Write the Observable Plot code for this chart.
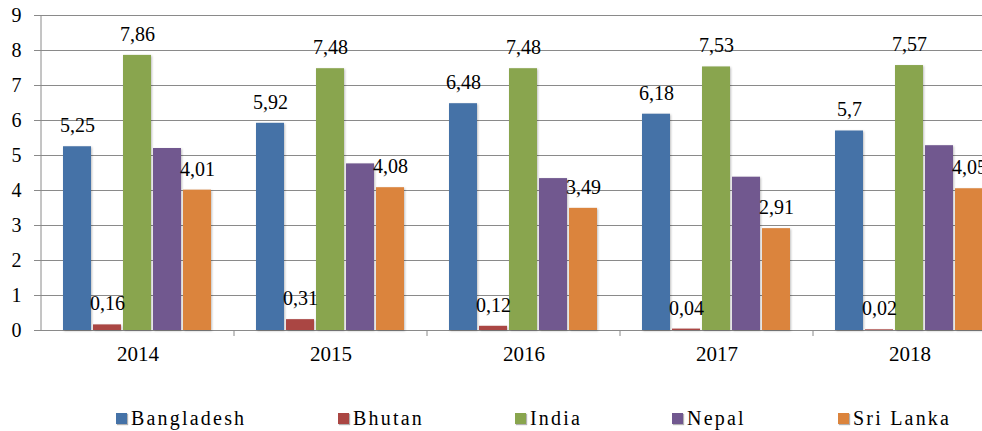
<!DOCTYPE html>
<html>
<head>
<meta charset="utf-8">
<script src="https://cdn.jsdelivr.net/npm/d3@7"></script>
<script src="https://cdn.jsdelivr.net/npm/@observablehq/plot@0.6"></script>
<style>
  html, body { margin: 0; padding: 0; background: #fff; width: 982px; height: 431px; overflow: hidden; }
  #chart svg { max-width: none !important; display: block; }
  #chart g[aria-label="bar"] rect { filter: drop-shadow(1px 1px 1px rgba(0,0,0,0.25)); }
  #legend { position: relative; width: 982px; height: 41px; font-family: 'Times New Roman'; font-size: 20px; color: #000; }
  #legend .item { position: absolute; top: 17px; display: flex; align-items: center; line-height: 22px; letter-spacing: 2.2px; }
  #legend .sw { width: 11px; height: 11px; margin-right: 4px; box-shadow: 1px 1px 1px rgba(0,0,0,0.3); }
</style>
</head>
<body>
<div id="chart"></div>
<div id="legend"></div>
<script>
const years = ["2014", "2015", "2016", "2017", "2018"];
const countries = ["Bangladesh", "Bhutan", "India", "Nepal", "Sri Lanka"];
const bangladesh = [5.25, 5.92, 6.48, 6.18, 5.7];
const bhutan = [0.16, 0.31, 0.12, 0.04, 0.02];
const india = [7.86, 7.48, 7.48, 7.53, 7.57];
const nepal = [5.2, 4.76, 4.34, 4.38, 5.28];
const sriLanka = [4.01, 4.08, 3.49, 2.91, 4.05];
const labelledCountries = ["Bangladesh", "Bhutan", "India", "Sri Lanka"];
const colors = ["#4572A7", "#AA4643", "#89A54E", "#71588F", "#DB843D"];
const yTicks = [0, 1, 2, 3, 4, 5, 6, 7, 8, 9];
const legendLeft = [116, 338, 515, 672, 838];

const series = [bangladesh, bhutan, india, nepal, sriLanka];
const data = [];
years.forEach((yr, i) => {
  countries.forEach((c, j) => {
    data.push({year: yr, country: c, value: series[j][i]});
  });
});
const labelData = data.filter(d => labelledCountries.includes(d.country));
const fmt = v => String(v).replace(".", ",");
const gridColor = "#8a8a8a";
const font = "Times New Roman";

const plot = Plot.plot({
  width: 1007,
  height: 390,
  marginLeft: 40,
  marginRight: 0,
  marginTop: 15,
  marginBottom: 60,
  style: {background: "white", maxWidth: "none", color: "#000", fontFamily: font},
  fx: {domain: years, padding: 0, label: null},
  x: {domain: countries, paddingInner: 0.06, paddingOuter: 0.735, axis: null},
  y: {domain: [0, 9], label: null},
  color: {domain: countries, range: colors},
  marks: [
    Plot.gridY(yTicks, {stroke: gridColor, strokeOpacity: 1, strokeWidth: 1}),
    Plot.axisY(yTicks, {tickSize: 7, tickPadding: 13, stroke: gridColor, fontSize: 20, fill: "#000", label: null, fontFamily: font}),
    Plot.axisFx({anchor: "bottom", tickSize: 0, tickPadding: 16, fontSize: 21, fill: "#000", label: null, fontFamily: font}),
    Plot.barY(data, {fx: "year", x: "country", y: "value", fill: "country"}),
    Plot.text(labelData, {fx: "year", x: "country", y: "value", text: d => fmt(d.value), dy: -21, fontSize: 20, fill: "#000", fontFamily: font})
  ]
});
document.getElementById("chart").appendChild(plot);

// Y axis line and group boundary tick marks, positioned from Plot's own scales
const fxS = plot.scale("fx");
const yS = plot.scale("y");
const svg = d3.select(plot);
const y0 = yS.apply(0), yTop = yS.apply(9);
const left = fxS.apply(years[0]);
svg.append("line").attr("x1", left).attr("x2", left).attr("y1", yTop).attr("y2", y0)
  .attr("stroke", gridColor);
years.slice(1).forEach(yr => {
  const xb = fxS.apply(yr);
  svg.append("line").attr("x1", xb).attr("x2", xb).attr("y1", y0).attr("y2", y0 + 6)
    .attr("stroke", gridColor);
});

// Legend
const legend = d3.select("#legend");
countries.forEach((c, i) => {
  const item = legend.append("div").attr("class", "item").style("left", legendLeft[i] + "px");
  item.append("span").attr("class", "sw").style("background", colors[i]);
  item.append("span").text(c);
});
</script>
</body>
</html>
